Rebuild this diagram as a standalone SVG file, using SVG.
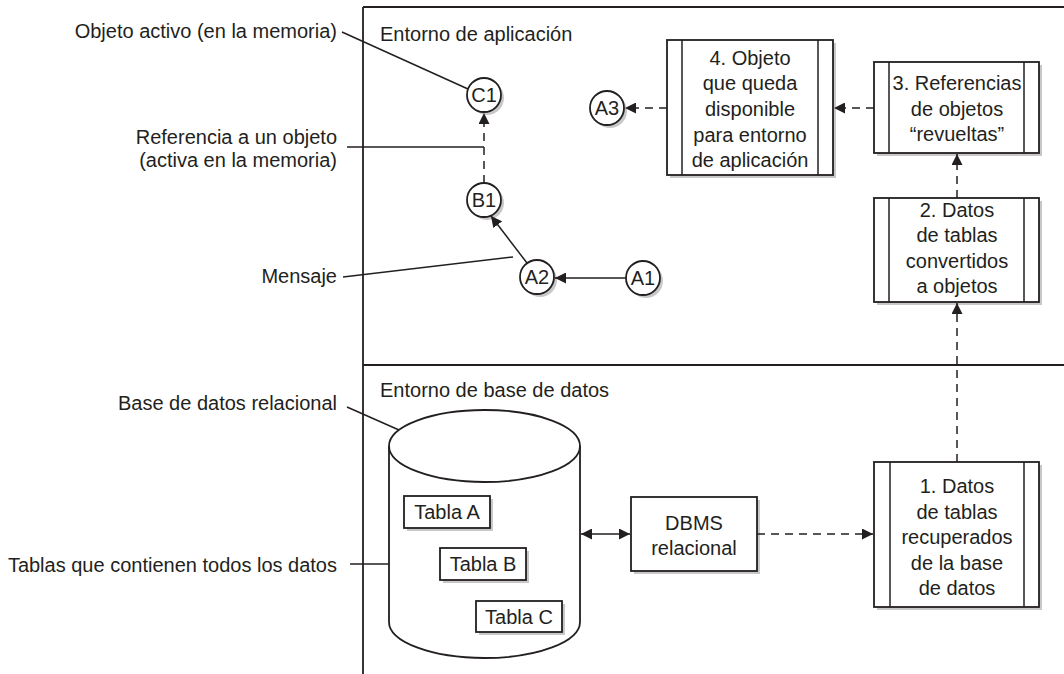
<svg xmlns="http://www.w3.org/2000/svg" width="1064" height="674" viewBox="0 0 1064 674">
<style>
text{font-family:"Liberation Sans",Arial,sans-serif;font-size:20px;fill:#231f20}
.c{text-anchor:middle}
.e{text-anchor:end}
.ln{stroke:#231f20;stroke-width:1.5;fill:none}
.ds{stroke:#231f20;stroke-width:1.5;fill:none;stroke-dasharray:8,6}
.box{fill:#fff;stroke:#231f20;stroke-width:1.8}
.sh{fill:#c8c8c8}
</style>
<defs>
<marker id="ah" viewBox="0 0 10 10" refX="10" refY="5" markerWidth="11" markerHeight="11" markerUnits="userSpaceOnUse" orient="auto-start-reverse">
<path d="M0,0 L10,5 L0,10 z" fill="#231f20"/>
</marker>
</defs>
<rect width="1064" height="674" fill="#fff"/>
<g id="frame">
<line class="ln" x1="363" y1="7" x2="363" y2="674" style="stroke-width:1.8"/>
<line class="ln" x1="363" y1="7" x2="1064" y2="7" style="stroke-width:1.8"/>
<line class="ln" x1="363" y1="365" x2="1064" y2="365" style="stroke-width:1.8"/>
<text x="380" y="41">Entorno de aplicación</text>
<text x="380" y="397">Entorno de base de datos</text>
</g>
<g id="labels">
<text class="e" x="337" y="38">Objeto activo (en la memoria)</text>
<text class="e" x="337" y="144">Referencia a un objeto</text>
<text class="e" x="337" y="167">(activa en la memoria)</text>
<text class="e" x="337" y="283">Mensaje</text>
<text class="e" x="337" y="410">Base de datos relacional</text>
<text class="e" x="337" y="572">Tablas que contienen todos los datos</text>
<line class="ln" x1="342" y1="32" x2="468" y2="89"/>
<line class="ln" x1="347" y1="147" x2="484" y2="147"/>
<line class="ln" x1="343" y1="277" x2="513" y2="257"/>
<line class="ln" x1="347" y1="407" x2="442" y2="449"/>
<line class="ln" x1="350" y1="564" x2="440" y2="564"/>
</g>
<g id="db">
<path d="M389,446 L389,622 A95.5,36 0 0 0 580,622 L580,446" class="box"/>
<ellipse cx="484.5" cy="446" rx="95.5" ry="36" class="box"/>
</g>
<g id="tablaA"><rect class="sh" x="407" y="499" width="86" height="32"/><rect class="box" x="404" y="496" width="86" height="32"/><text class="c" x="447" y="519">Tabla A</text></g>
<g id="tablaB"><rect class="sh" x="443" y="551" width="86" height="32"/><rect class="box" x="440" y="548" width="86" height="32"/><text class="c" x="483" y="571">Tabla B</text></g>
<g id="tablaC"><rect class="sh" x="479" y="604" width="86" height="31"/><rect class="box" x="476" y="601" width="86" height="31"/><text class="c" x="519" y="624">Tabla C</text></g>
<g id="dbms"><rect class="sh" x="634" y="500" width="126" height="74"/><rect class="box" x="631" y="497" width="126" height="74"/><text class="c" x="694" y="530">DBMS</text><text class="c" x="694" y="555">relacional</text></g>
<g id="p1"><rect class="sh" x="877" y="465" width="165" height="145"/><rect class="box" x="874" y="462" width="165" height="145"/><line class="ln" x1="890" y1="462" x2="890" y2="607"/><line class="ln" x1="1024" y1="462" x2="1024" y2="607"/>
<text class="c" x="957" y="493">1. Datos</text><text class="c" x="957" y="519">de tablas</text><text class="c" x="957" y="544">recuperados</text><text class="c" x="957" y="570">de la base</text><text class="c" x="957" y="595">de datos</text></g>
<g id="p2"><rect class="sh" x="877" y="201" width="165" height="104"/><rect class="box" x="874" y="198" width="165" height="104"/><line class="ln" x1="889" y1="198" x2="889" y2="302"/><line class="ln" x1="1024" y1="198" x2="1024" y2="302"/>
<text class="c" x="957" y="217">2. Datos</text><text class="c" x="957" y="242">de tablas</text><text class="c" x="957" y="268">convertidos</text><text class="c" x="957" y="293">a objetos</text></g>
<g id="p3"><rect class="sh" x="877" y="65" width="165" height="91"/><rect class="box" x="874" y="62" width="165" height="91"/><line class="ln" x1="889" y1="62" x2="889" y2="153"/><line class="ln" x1="1024" y1="62" x2="1024" y2="153"/>
<text class="c" x="957" y="90">3. Referencias</text><text class="c" x="957" y="116">de objetos</text><text class="c" x="957" y="141">“revueltas”</text></g>
<g id="p4"><rect class="sh" x="670" y="43" width="166" height="135"/><rect class="box" x="667" y="40" width="166" height="135"/><line class="ln" x1="682" y1="40" x2="682" y2="175"/><line class="ln" x1="818" y1="40" x2="818" y2="175"/>
<text class="c" x="750" y="65">4. Objeto</text><text class="c" x="750" y="90">que queda</text><text class="c" x="750" y="116">disponible</text><text class="c" x="750" y="142">para entorno</text><text class="c" x="750" y="167">de aplicación</text></g>
<g id="C1"><circle class="sh" cx="487" cy="98" r="17"/><circle class="box" cx="484" cy="95" r="17"/><text class="c" x="484" y="102">C1</text></g>
<g id="B1"><circle class="sh" cx="487" cy="203" r="17"/><circle class="box" cx="484" cy="200" r="17"/><text class="c" x="484" y="207">B1</text></g>
<g id="A2"><circle class="sh" cx="540" cy="280" r="17"/><circle class="box" cx="537" cy="277" r="17"/><text class="c" x="537" y="284">A2</text></g>
<g id="A1"><circle class="sh" cx="646" cy="281" r="17"/><circle class="box" cx="643" cy="278" r="17"/><text class="c" x="643" y="285">A1</text></g>
<g id="A3"><circle class="sh" cx="610" cy="111" r="17"/><circle class="box" cx="607" cy="108" r="17"/><text class="c" x="607" y="115">A3</text></g>
<g id="connectors">
<line class="ln" x1="626" y1="278" x2="555" y2="278" marker-end="url(#ah)"/>
<line class="ln" x1="527" y1="263" x2="491" y2="216" marker-end="url(#ah)"/>
<line class="ds" x1="484" y1="183" x2="484" y2="113" marker-end="url(#ah)"/>
<line class="ln" x1="581" y1="534" x2="630" y2="534" marker-start="url(#ah)" marker-end="url(#ah)"/>
<line class="ds" x1="757" y1="534" x2="873" y2="534" marker-end="url(#ah)"/>
<line class="ds" x1="957" y1="462" x2="957" y2="303" marker-end="url(#ah)"/>
<line class="ds" x1="957" y1="198" x2="957" y2="154" marker-end="url(#ah)"/>
<line class="ds" x1="874" y1="108" x2="834" y2="108" marker-end="url(#ah)"/>
<line class="ds" x1="667" y1="108" x2="625" y2="108" marker-end="url(#ah)"/>
</g>
</svg>
